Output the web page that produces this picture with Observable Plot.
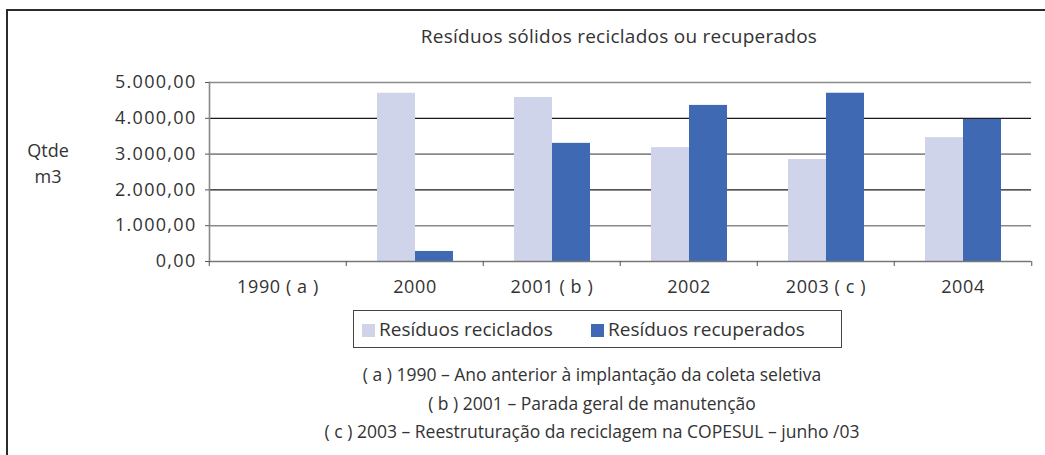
<!DOCTYPE html>
<html><head><meta charset="utf-8">
<script src="https://cdn.jsdelivr.net/npm/d3@7"></script>
<script src="https://cdn.jsdelivr.net/npm/@observablehq/plot@0.6"></script>
<style>
body{margin:0;background:#fff;font-family:"Open Sans",sans-serif;color:#333}
#wrap{position:relative;width:1045px;height:455px;overflow:hidden;background:#fff}
#frame{position:absolute;left:6px;top:9px;width:1100px;height:500px;border-left:2px solid #2b2b2b;border-top:2px solid #2b2b2b;box-sizing:border-box}
#chart{position:absolute;left:0;top:0}
#title{position:absolute;left:219px;width:800px;top:27px;text-align:center;font-size:19px;line-height:19px;letter-spacing:0.25px}
#ylab{position:absolute;left:18px;width:60px;top:137px;text-align:center;font-size:18px;line-height:26px}
#legend{position:absolute;left:353px;top:310px;width:489px;height:38px;border:1px solid #444;box-sizing:border-box;font-size:19px}
.item{position:absolute;top:0;line-height:36px;white-space:nowrap}
.sw{display:inline-block;width:13px;height:13px;margin-right:4px;vertical-align:-1px}
.note{position:absolute;left:292px;width:600px;text-align:center;font-size:17.5px;line-height:17.5px}
</style></head>
<body><div id="wrap"><div id="frame"></div><div id="chart"></div>
<div id="title"></div><div id="ylab"></div><div id="legend"></div><div id="notes"></div></div>
<script>
const title = "Resíduos sólidos reciclados ou recuperados";
const yLabel = ["Qtde", "m3"];
const categories = ["1990 ( a )", "2000", "2001 ( b )", "2002", "2003 ( c )", "2004"];
const series = ["Resíduos reciclados", "Resíduos recuperados"];
const reciclados = [null, 4700, 4580, 3180, 2850, 3460];
const recuperados = [null, 280, 3300, 4360, 4700, 3970];
const yTicks = [0, 1000, 2000, 3000, 4000, 5000];
const notes = [
  "( a ) 1990 – Ano anterior à implantação da coleta seletiva",
  "( b ) 2001 – Parada geral de manutenção",
  "( c ) 2003 – Reestruturação da reciclagem na COPESUL – junho /03"
];
const colors = ["#d0d4ea", "#3f69b3"];

// keep empty categories as rows (null values) so every facet is rendered
const data = categories.flatMap((c, i) => [
  {cat: c, serie: series[0], v: reciclados[i]},
  {cat: c, serie: series[1], v: recuperados[i]}
]);

const fmt = d3.formatLocale({decimal: ",", thousands: ".", grouping: [3], currency: ["R$", ""]}).format(",.2f");

const W = 1045, mL = 207, mR = 13;
const step = (W - mL - mR) / categories.length;

const chart = Plot.plot({
  width: W, height: 300,
  marginLeft: mL, marginRight: mR, marginTop: 82, marginBottom: 39,
  style: {fontFamily: "Open Sans, sans-serif", fontSize: "18px", color: "#333", background: "transparent"},
  fx: {domain: categories, paddingInner: 0, paddingOuter: 0, label: null},
  x: {domain: series, paddingInner: 0, paddingOuter: 0.763, axis: null},
  y: {domain: [0, 5000], label: null},
  color: {domain: series, range: colors},
  marks: [
    Plot.ruleY(yTicks.filter(d => d > 0 && (d / 1000) % 2 === 1), {stroke: "#8a8a8a", strokeWidth: 1.6}),
    Plot.ruleY(yTicks.filter(d => d > 0 && (d / 1000) % 2 === 0), {stroke: "#1a1a1a", strokeWidth: 1.2}),
    Plot.barY(data, {fx: "cat", x: "serie", y: "v", fill: "serie"}),
    Plot.ruleY([0], {stroke: "#777", strokeWidth: 1.6}),
    Plot.frame({anchor: "left", facetAnchor: "left", stroke: "#888", strokeWidth: 1.6}),
    Plot.axisY({ticks: yTicks, tickFormat: fmt, tickSize: 4, tickPadding: 9, stroke: "#555", label: null}),
    Plot.axisFx({anchor: "bottom", tickSize: 5, tickFormat: () => "", dx: -step / 2, stroke: "#555", label: null}),
    Plot.axisFx({anchor: "bottom", ticks: [categories[categories.length - 1]], tickSize: 5, tickFormat: () => "", dx: step / 2, stroke: "#555", label: null}),
    Plot.axisFx({anchor: "bottom", tickSize: 0, tickPadding: 19, label: null})
  ]
});
d3.select(chart).selectAll('[aria-label="y-axis tick label"] text').style("letter-spacing", "1.3px");
d3.select(chart).selectAll('[aria-label="fx-axis tick label"] text').style("letter-spacing", "0.6px");
document.getElementById("chart").append(chart);

document.getElementById("title").textContent = title;
document.getElementById("ylab").innerHTML = yLabel.join("<br>");
const lg = document.getElementById("legend");
const lefts = [8, 237];
series.forEach((s, i) => {
  const it = document.createElement("div");
  it.className = "item";
  it.style.left = lefts[i] + "px";
  it.innerHTML = `<span class="sw" style="background:${colors[i]}"></span>${s}`;
  lg.append(it);
});
const nt = document.getElementById("notes");
notes.forEach((n, i) => {
  const d = document.createElement("div");
  d.className = "note";
  d.style.top = (366 + i * 28.5) + "px";
  d.textContent = n;
  nt.append(d);
});
</script></body></html>
